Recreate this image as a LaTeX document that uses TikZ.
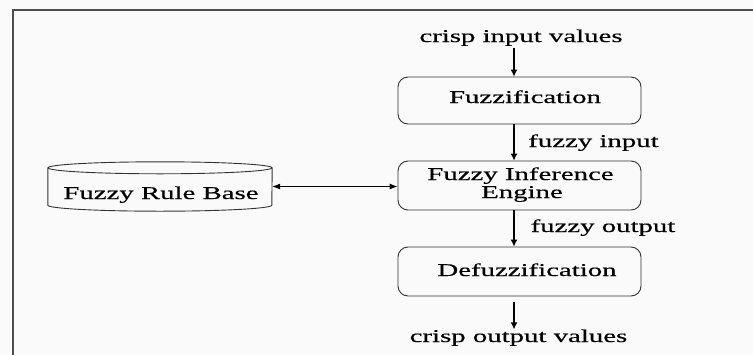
\documentclass[tikz,border=0pt]{standalone}
\usepackage{fontspec}
\setmainfont[FakeStretch=1.6,FakeBold=0.4]{Liberation Serif}
\usetikzlibrary{arrows.meta,calc}
\begin{document}
\begin{tikzpicture}[x=1pt,y=-1pt,
  every node/.style={font=\fontsize{18}{18}\selectfont, inner sep=0pt},
  proc/.style={draw=black!80, line width=0.9pt, rounded corners=10pt, minimum width=243pt},
  flow/.style={-{Latex[length=7pt,width=7pt]}, line width=1.2pt},
  both/.style={{Latex[length=8pt,width=6pt]}-{Latex[length=8pt,width=6pt]}, line width=0.9pt},
  cyl/.style={draw=black!80, line width=0.9pt},
  lbl/.style={anchor=base}
]
\useasboundingbox (0,0) rectangle (753,354);
\fill[black!2] (0,0) rectangle (753,354);
\begin{scope}
\clip (0,0) rectangle (753,354);
\draw[line width=2pt, black!70] (13,380) -- (13,10) -- (780,10);
\end{scope}

% boxes
\node[proc, minimum height=47pt] (fuzz) at (519.5,100.5) {};
\node[proc, minimum height=49pt] (fie) at (519.5,185.5) {};
\node[proc, minimum height=49pt] (defuz) at (519.5,271.5) {};
\node[minimum width=224pt, minimum height=49pt] (rb) at (160,186.5) {};

% cylinder
\draw[cyl] ($(rb.north west)+(0,6)$) -- ($(rb.south west)+(0,-6)$)
  arc[start angle=180, end angle=0, x radius=112, y radius=6]
  -- ($(rb.north east)+(0,6)$);
\draw[cyl] ($(rb.north)+(0,6)$) ellipse[x radius=112, y radius=6];

% texts
\node[lbl] (tin) at (521,42) {crisp input values};
\node[lbl] at (525,103) {Fuzzification};
\node[lbl] at (520.5,180) {Fuzzy Inference};
\node[lbl] at (522,198) {Engine};
\node[lbl] at (527,276) {Defuzzification};
\node[lbl] at (593.5,147) {fuzzy input};
\node[lbl] at (603,232) {fuzzy output};
\node[lbl] (tout) at (518.5,342) {crisp output values};
\node[lbl] at (161,199) {Fuzzy Rule Base};

% connectors
\coordinate (ax) at (514,0);
\draw[flow] ($(tin.south -| ax)+(0,2)$) -- (fuzz.north -| ax);
\draw[flow] (fuzz.south -| ax) -- (fie.north -| ax);
\draw[flow] (fie.south -| ax) -- (defuz.north -| ax);
\draw[flow] ($(defuz.south -| ax)+(0,6)$) -- (tout.north -| ax);
\draw[both] (rb.east) -- (rb.east -| fie.west);
\end{tikzpicture}
\end{document}
